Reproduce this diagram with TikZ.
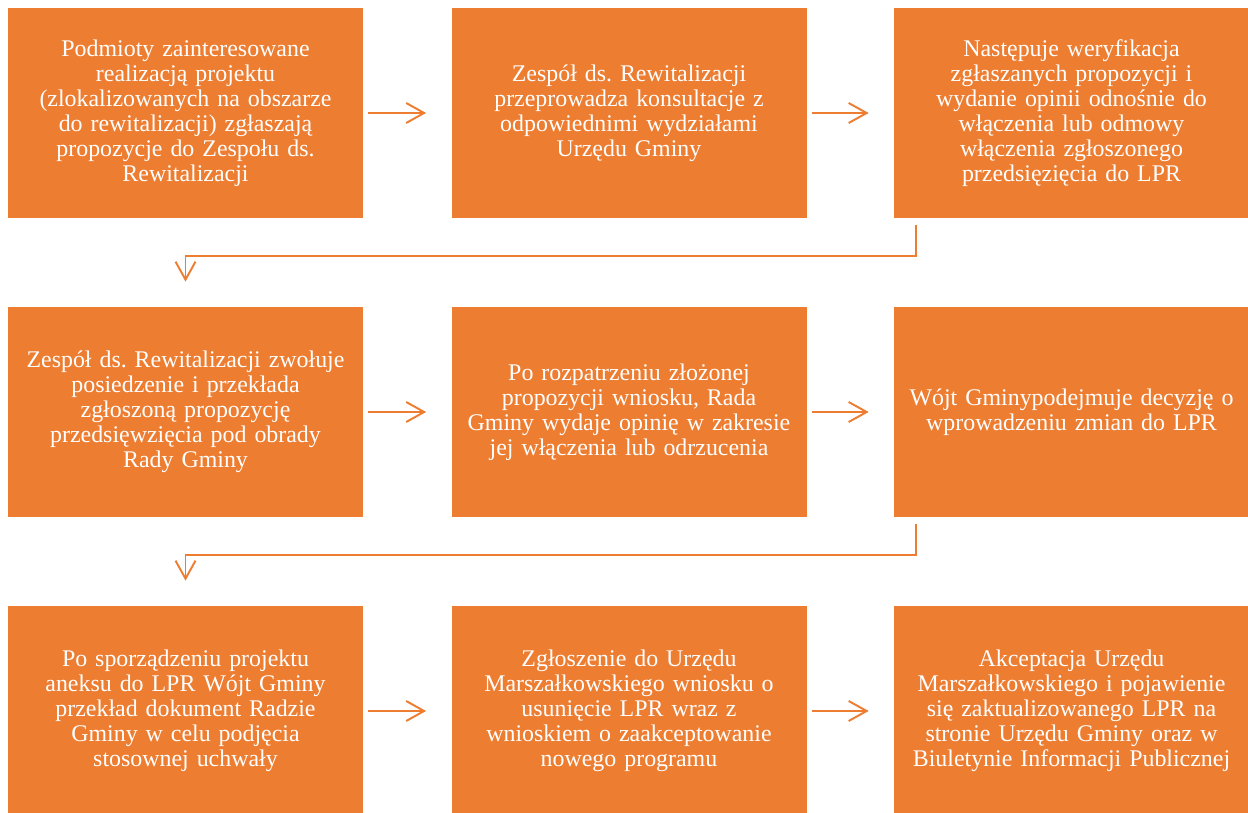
\documentclass[tikz,border=0pt]{standalone}
\usepackage{fontspec}
\setmainfont{Liberation Serif}
\usetikzlibrary{arrows.meta,positioning}
\definecolor{planorange}{HTML}{ED7D31}
\frenchspacing

\begin{document}
\begin{tikzpicture}[
  stepbox/.style={fill=planorange, text=white, align=center, minimum width=7.1cm, minimum height=4.2cm, text width=6.9cm, inner sep=0pt, font=\fontsize{13.6}{14.2}\selectfont},
  flow/.style={-{Straight Barb[length=3.6mm,width=4mm]}, draw=planorange, line width=1.1pt}
]
\useasboundingbox (0,0) rectangle (24.96,16.24);

% Row 1
\node[stepbox] (zgloszenie) at (3.71,13.98)
  {Podmioty zainteresowane\\realizacją projektu\\(zlokalizowanych na obszarze\\do rewitalizacji) zgłaszają\\propozycje do Zespołu ds.\\Rewitalizacji};
\node[stepbox] (konsultacje) at (12.58,13.98)
  {Zespół ds. Rewitalizacji\\przeprowadza konsultacje z\\odpowiednimi wydziałami\\Urzędu Gminy};
\node[stepbox] (weryfikacja) at (21.43,13.98)
  {Następuje weryfikacja\\zgłaszanych propozycji i\\wydanie opinii odnośnie do\\włączenia lub odmowy\\włączenia zgłoszonego\\przedsięzięcia do LPR};

% Row 2
\node[stepbox] (posiedzenie) at (3.71,8.00)
  {Zespół ds. Rewitalizacji zwołuje\\posiedzenie i przekłada\\zgłoszoną propozycję\\przedsięwzięcia pod obrady\\Rady Gminy};
\node[stepbox] (opinia) at (12.58,8.00)
  {Po rozpatrzeniu złożonej\\propozycji wniosku, Rada\\Gminy wydaje opinię w zakresie\\jej włączenia lub odrzucenia};
\node[stepbox] (decyzja) at (21.43,8.00)
  {Wójt Gminypodejmuje decyzję o\\wprowadzeniu zmian do LPR};

% Row 3
\node[stepbox] (aneks) at (3.71,2.02)
  {Po sporządzeniu projektu\\aneksu do LPR Wójt Gminy\\przekład dokument Radzie\\Gminy w celu podjęcia\\stosownej uchwały};
\node[stepbox] (wniosek) at (12.58,2.02)
  {Zgłoszenie do Urzędu\\Marszałkowskiego wniosku o\\usunięcie LPR wraz z\\wnioskiem o zaakceptowanie\\nowego programu};
\node[stepbox] (akceptacja) at (21.43,2.02)
  {Akceptacja Urzędu\\Marszałkowskiego i pojawienie\\się zaktualizowanego LPR na\\stronie Urzędu Gminy oraz w\\Biuletynie Informacji Publicznej};

% horizontal steps
\draw[flow] ([xshift=1mm]zgloszenie.east) -- ([xshift=-5mm]konsultacje.west);
\draw[flow] ([xshift=1mm]konsultacje.east) -- ([xshift=-5mm]weryfikacja.west);
\draw[flow] ([xshift=1mm]posiedzenie.east) -- ([xshift=-5mm]opinia.west);
\draw[flow] ([xshift=1mm]opinia.east) -- ([xshift=-5mm]decyzja.west);
\draw[flow] ([xshift=1mm]aneks.east) -- ([xshift=-5mm]wniosek.west);
\draw[flow] ([xshift=1mm]wniosek.east) -- ([xshift=-5mm]akceptacja.west);

% row changes
\draw[flow] ([xshift=4.4mm,yshift=-1.4mm]weryfikacja.south west) -- ++(0,-0.62)
  -| ([yshift=5mm]posiedzenie.north);
\draw[flow] ([xshift=4.4mm,yshift=-1.4mm]decyzja.south west) -- ++(0,-0.62)
  -| ([yshift=5mm]aneks.north);
\end{tikzpicture}
\end{document}
